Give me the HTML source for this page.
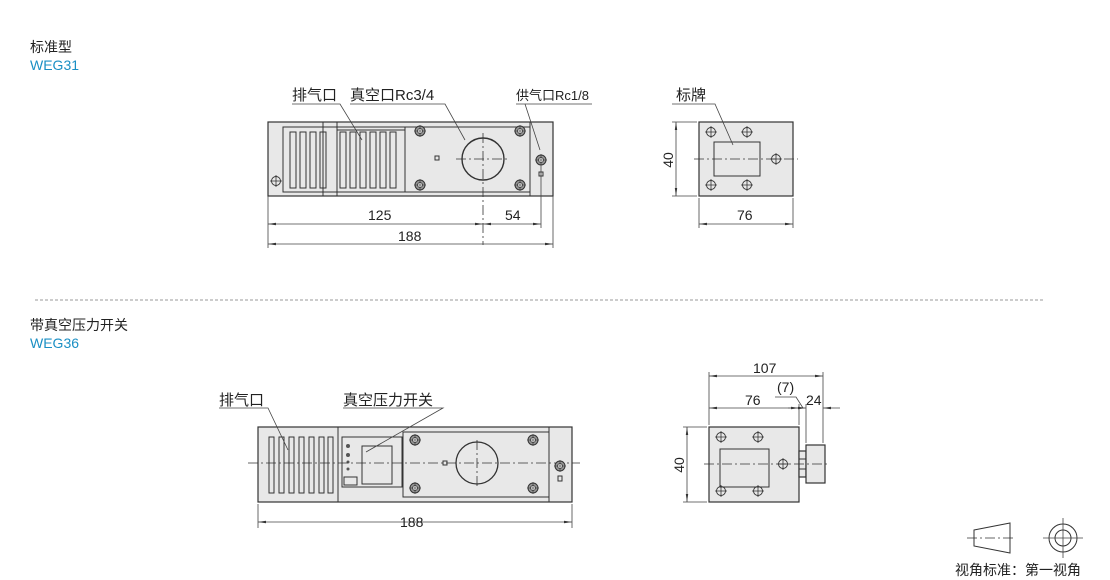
<!DOCTYPE html>
<html><head><meta charset="utf-8"><style>
body{margin:0;background:#fff;width:1110px;height:580px;overflow:hidden}
svg{display:block}
text{font-family:"Liberation Sans","Noto Sans CJK SC",sans-serif;fill:#222}
.b{fill:#e8e8e8;stroke:#333;stroke-width:1.2}
.l{stroke:#333;stroke-width:1;fill:none}
.c{stroke:#333;stroke-width:0.8;stroke-dasharray:10 3 2 3;fill:none}
.d{stroke:#444;stroke-width:0.8;fill:none}
</style></head><body>
<svg width="1110" height="580" viewBox="0 0 1110 580">
<defs>
<marker id="a" markerWidth="10" markerHeight="6" refX="10" refY="3" orient="auto-start-reverse"><path d="M0,1.5 L10,3 L0,4.5z" fill="#333"/></marker>
<g id="h"><circle r="4.5" fill="none" stroke="#333" stroke-width="0.9"/><path d="M-6,0H6M0,-6V6" stroke="#333" stroke-width="0.8"/></g>
<g id="s"><circle r="5" fill="#999" stroke="#333"/><circle r="2.5" fill="#eee" stroke="#333" stroke-width="0.7"/><path d="M-6,0H6M0,-6V6" stroke="#333" stroke-width="0.6"/></g>
</defs>
<text x="30" y="52" font-size="14">标准型</text>
<text x="30" y="70" font-size="14" style="fill:#1a8fc4">WEG31</text>
<text x="30" y="330" font-size="14">带真空压力开关</text>
<text x="30" y="348" font-size="14" style="fill:#1a8fc4">WEG36</text>
<line x1="35" y1="300" x2="1045" y2="300" stroke="#999" stroke-dasharray="3 2"/>

<!-- top front -->
<rect class="b" x="268" y="122" width="285" height="74"/>
<rect class="l" x="283" y="127" width="122" height="65"/>
<line class="l" x1="323" y1="122" x2="323" y2="196"/><line class="l" x1="337" y1="122" x2="337" y2="196"/>
<line class="l" x1="337" y1="130" x2="405" y2="130"/>
<g class="l">
<rect x="290" y="132" width="6" height="56"/><rect x="300" y="132" width="6" height="56"/><rect x="310" y="132" width="6" height="56"/><rect x="320" y="132" width="6" height="56"/><rect x="340" y="132" width="6" height="56"/><rect x="350" y="132" width="6" height="56"/><rect x="360" y="132" width="6" height="56"/><rect x="370" y="132" width="6" height="56"/><rect x="380" y="132" width="6" height="56"/><rect x="390" y="132" width="6" height="56"/>
</g>
<rect class="l" x="405" y="127" width="125" height="65"/>
<line class="l" x1="530" y1="122" x2="530" y2="196"/>
<circle cx="483" cy="159" r="21" fill="none" stroke="#333" stroke-width="1.4"/>
<path class="c" d="M456,159H510M483,133V245"/>
<use href="#s" x="420" y="131"/><use href="#s" x="520" y="131"/><use href="#s" x="420" y="185"/><use href="#s" x="520" y="185"/>
<rect class="l" x="435" y="156" width="4" height="4"/><rect class="l" x="539" y="172" width="4" height="4"/>
<use href="#s" x="541" y="160"/>
<use href="#h" x="276" y="181"/>
<line class="d" x1="268" y1="196" x2="268" y2="248"/><line class="d" x1="553" y1="196" x2="553" y2="248"/><line class="d" x1="541" y1="166" x2="541" y2="228"/>
<line class="d" x1="268" y1="224" x2="483" y2="224" marker-start="url(#a)" marker-end="url(#a)"/>
<line class="d" x1="483" y1="224" x2="541" y2="224" marker-start="url(#a)" marker-end="url(#a)"/>
<line class="d" x1="268" y1="244" x2="553" y2="244" marker-start="url(#a)" marker-end="url(#a)"/>
<text x="368" y="220" font-size="14">125</text><text x="505" y="220" font-size="14">54</text><text x="398" y="241" font-size="14">188</text>
<text x="292" y="100" font-size="15">排气口</text><text x="350" y="100" font-size="15">真空口Rc3/4</text><text x="516" y="100" font-size="13">供气口Rc1/8</text>
<path class="d" d="M292,104H340L362,140M350,104H445L465,140M516,104H592M525,104L540,150"/>

<!-- top side -->
<rect class="b" x="699" y="122" width="94" height="74"/>
<rect class="l" x="714" y="142" width="46" height="34"/>
<path class="c" d="M694,159H798"/>
<use href="#h" x="711" y="132"/><use href="#h" x="747" y="132"/><use href="#h" x="711" y="185"/><use href="#h" x="747" y="185"/><use href="#h" x="776" y="159"/>
<path class="d" d="M672,122H697M672,196H697M699,198V228M793,198V228"/>
<line class="d" x1="676" y1="122" x2="676" y2="196" marker-start="url(#a)" marker-end="url(#a)"/>
<line class="d" x1="699" y1="224" x2="793" y2="224" marker-start="url(#a)" marker-end="url(#a)"/>
<text x="737" y="220" font-size="14">76</text>
<text x="673" y="160" font-size="14" transform="rotate(-90 673 160)" text-anchor="middle">40</text>
<text x="676" y="100" font-size="15">标牌</text>
<path class="d" d="M672,104H715L733,145"/>

<!-- bottom front -->
<rect class="b" x="258" y="427" width="314" height="75"/>
<line class="l" x1="338" y1="427" x2="338" y2="502"/>
<g class="l"><rect x="269" y="437" width="5" height="56"/><rect x="279" y="437" width="5" height="56"/><rect x="289" y="437" width="5" height="56"/><rect x="299" y="437" width="5" height="56"/><rect x="309" y="437" width="5" height="56"/><rect x="319" y="437" width="5" height="56"/><rect x="328" y="437" width="5" height="56"/></g>
<rect class="l" x="342" y="437" width="60" height="50" stroke-width="1.5"/>
<rect class="l" x="362" y="446" width="30" height="38"/>
<rect class="l" x="344" y="477" width="13" height="8"/>
<circle cx="348" cy="446" r="2" fill="#555"/><circle cx="348" cy="455" r="2" fill="#555"/><circle cx="348" cy="462" r="1.5" fill="#555"/><circle cx="348" cy="469" r="1.5" fill="#555"/>
<rect class="l" x="403" y="432" width="146" height="65"/>
<line class="l" x1="549" y1="427" x2="549" y2="502"/>
<circle cx="477" cy="463" r="21" fill="none" stroke="#333" stroke-width="1.3"/>
<path class="c" d="M248,463H580M477,440V486"/>
<use href="#s" x="415" y="440"/><use href="#s" x="533" y="440"/><use href="#s" x="415" y="488"/><use href="#s" x="533" y="488"/>
<rect class="l" x="443" y="461" width="4" height="4"/><rect class="l" x="558" y="476" width="4" height="5"/>
<use href="#s" x="560" y="466"/>
<path class="d" d="M258,504V528M572,504V528"/>
<line class="d" x1="258" y1="522" x2="572" y2="522" marker-start="url(#a)" marker-end="url(#a)"/>
<text x="400" y="527" font-size="14">188</text>
<text x="219" y="405" font-size="15">排气口</text><text x="343" y="405" font-size="15">真空压力开关</text>
<path class="d" d="M219,408H268L288,450M343,408H443L366,452"/>

<!-- bottom side -->
<rect class="b" x="709" y="427" width="90" height="75"/>
<rect class="l" x="720" y="449" width="49" height="38"/>
<rect class="b" x="799" y="451" width="7" height="26"/>
<line class="l" x1="799" y1="459" x2="806" y2="459"/><line class="l" x1="799" y1="469" x2="806" y2="469"/>
<rect class="b" x="806" y="445" width="19" height="38"/>
<path class="c" d="M704,464H830"/>
<use href="#h" x="721" y="437"/><use href="#h" x="758" y="437"/><use href="#h" x="721" y="491"/><use href="#h" x="758" y="491"/><use href="#h" x="783" y="464"/>
<path class="d" d="M683,427H707M683,502H707M709,425V372M799,425V404M806,443V404M823,443V372"/>
<line class="d" x1="687" y1="427" x2="687" y2="502" marker-start="url(#a)" marker-end="url(#a)"/>
<line class="d" x1="709" y1="376" x2="823" y2="376" marker-start="url(#a)" marker-end="url(#a)"/>
<line class="d" x1="709" y1="408" x2="799" y2="408" marker-start="url(#a)" marker-end="url(#a)"/>
<line class="d" x1="788" y1="408" x2="806" y2="408" marker-end="url(#a)"/>
<line class="d" x1="840" y1="408" x2="823" y2="408" marker-end="url(#a)"/>
<path class="d" d="M775,397H796L803,408"/>
<text x="753" y="373" font-size="14">107</text><text x="745" y="405" font-size="14">76</text><text x="777" y="392" font-size="14">(7)</text><text x="806" y="405" font-size="14">24</text>
<text x="684" y="465" font-size="14" transform="rotate(-90 684 465)" text-anchor="middle">40</text>

<!-- projection symbol -->
<path class="l" d="M974,530L1010,523V553L974,546Z"/>
<path class="c" d="M967,538H1016" stroke-dasharray="6 2 2 2"/>
<circle cx="1063" cy="538" r="14" fill="none" stroke="#333"/><circle cx="1063" cy="538" r="8" fill="none" stroke="#333"/>
<path class="d" d="M1043,538H1083M1063,518V558"/>
<text x="955" y="575" font-size="14">视角标准：第一视角</text>
</svg>
</body></html>
